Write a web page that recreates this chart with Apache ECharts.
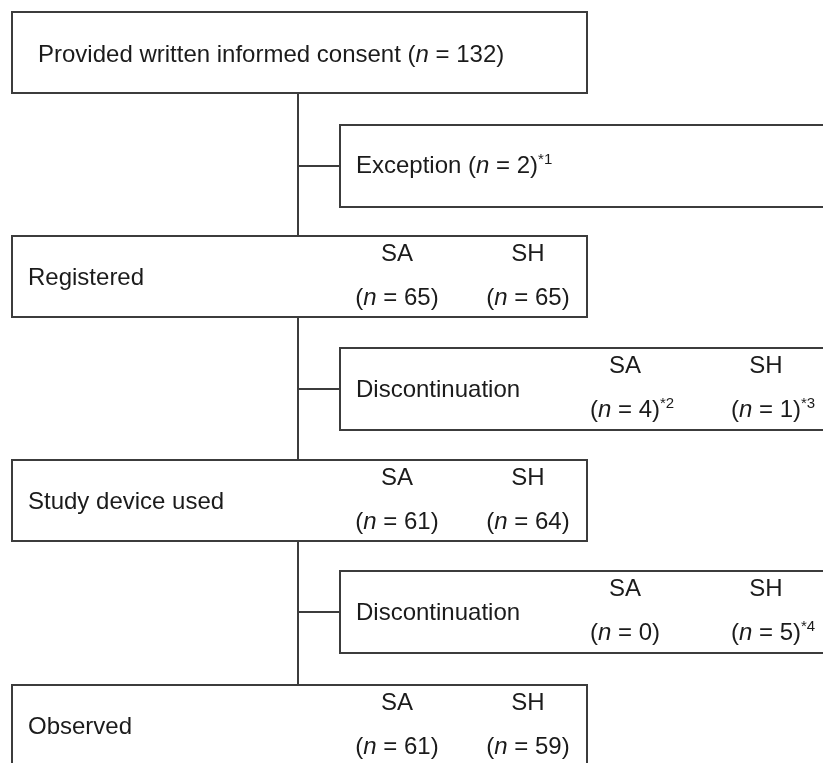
<!DOCTYPE html>
<html><head><meta charset="utf-8">
<script src="https://cdn.jsdelivr.net/npm/echarts@6/dist/echarts.min.js"></script>
<style>html,body{margin:0;padding:0;background:#fff}#c{width:823px;height:763px}</style>
</head><body><div id="c"></div>
<script>
// ---- data ----
const stageLabels = ['Provided written informed consent', 'Registered', 'Study device used', 'Observed'];
const consentTotal = 132;
const groups = ['SA', 'SH'];
const stageSA = [65, 61, 61];
const stageSH = [65, 64, 59];
const exitLabels = ['Exception', 'Discontinuation', 'Discontinuation'];
const exceptionTotal = 2;
const exceptionNote = '*1';
const exitSA = [4, 0];
const exitSH = [1, 5];
const exitNoteSA = ['*2', ''];
const exitNoteSH = ['*3', '*4'];

// ---- layout ----
const FONT = '"Liberation Sans", Arial, Helvetica, sans-serif';
const FS = 24, SUP = 15;
const INK = '#1b1b1b', LINE = '#3c3c3c';
const mainLeft = 12, mainW = 575, boxH = 81;
const mainTops = [12, 236, 460, 685];
const sideLeft = 340, sideW = 520, sideTops = [125, 348, 571];
const spineX = 298;
const mainCols = [397, 528], sideCols = [625, 766];

const cv = document.createElement('canvas').getContext('2d');
function tw(s, italic) { cv.font = (italic ? 'italic ' : '') + FS + 'px ' + FONT; return cv.measureText(s).width; }
function nWidth(v) { return tw('(') + tw('n', true) + tw(' = ' + v + ')'); }
const rich = {
  i: { fontStyle: 'italic', fontSize: FS, fontFamily: FONT, fill: INK, lineHeight: 28 },
  s: { fontSize: SUP, fontFamily: FONT, fill: INK, verticalAlign: 'top', lineHeight: 28 },
  p: { fontSize: FS, fontFamily: FONT, fill: INK, lineHeight: 28 }
};
function nText(v, note) { return '{p|(}{i|n}{p| = ' + v + ')}' + (note ? '{s|' + note + '}' : ''); }
function txt(x, y, text, align) {
  return { type: 'text', silent: true, style: { x: x, y: y, text: text, rich: rich, fontSize: FS, fontFamily: FONT, fill: INK, align: align || 'left', verticalAlign: 'middle' } };
}
function countCell(cx, top, label, v, note) {
  const w = nWidth(v);
  return [txt(cx, top + 18, '{p|' + label + '}', 'center'), txt(cx - w / 2, top + 62, nText(v, note), 'left')];
}
const els = [];
els.push({ type: 'line', silent: true, shape: { x1: spineX, y1: mainTops[0] + boxH, x2: spineX, y2: mainTops[3] }, style: { stroke: LINE, lineWidth: 2 } });
mainTops.forEach((t, k) => {
  els.push({ type: 'rect', silent: true, shape: { x: mainLeft, y: t, width: mainW, height: boxH }, style: { fill: '#fff', stroke: LINE, lineWidth: 2 } });
});
sideTops.forEach((t, k) => {
  els.push({ type: 'line', silent: true, shape: { x1: spineX, y1: t + 41, x2: sideLeft, y2: t + 41 }, style: { stroke: LINE, lineWidth: 2 } });
  els.push({ type: 'rect', silent: true, shape: { x: sideLeft, y: t, width: sideW, height: boxH + 1 }, style: { fill: '#fff', stroke: LINE, lineWidth: 2 } });
});
// main boxes
els.push(txt(38, mainTops[0] + 43, '{p|' + stageLabels[0] + ' }' + nText(consentTotal, '')));
for (let k = 1; k < 4; k++) {
  const t = mainTops[k];
  els.push(txt(28, t + 42, '{p|' + stageLabels[k] + '}'));
  els.push(...countCell(mainCols[0], t, groups[0], stageSA[k - 1], ''));
  els.push(...countCell(mainCols[1], t, groups[1], stageSH[k - 1], ''));
}
// side boxes
els.push(txt(356, sideTops[0] + 41, '{p|' + exitLabels[0] + ' }' + nText(exceptionTotal, exceptionNote)));
for (let k = 1; k < 3; k++) {
  const t = sideTops[k];
  els.push(txt(356, t + 42, '{p|' + exitLabels[k] + '}'));
  els.push(...countCell(sideCols[0], t, groups[0], exitSA[k - 1], exitNoteSA[k - 1]));
  els.push(...countCell(sideCols[1], t, groups[1], exitSH[k - 1], exitNoteSH[k - 1]));
}
const chart = echarts.init(document.getElementById('c'), null, { renderer: 'canvas' });
chart.setOption({ backgroundColor: '#fff', animation: false, graphic: { elements: els } });
</script></body></html>
